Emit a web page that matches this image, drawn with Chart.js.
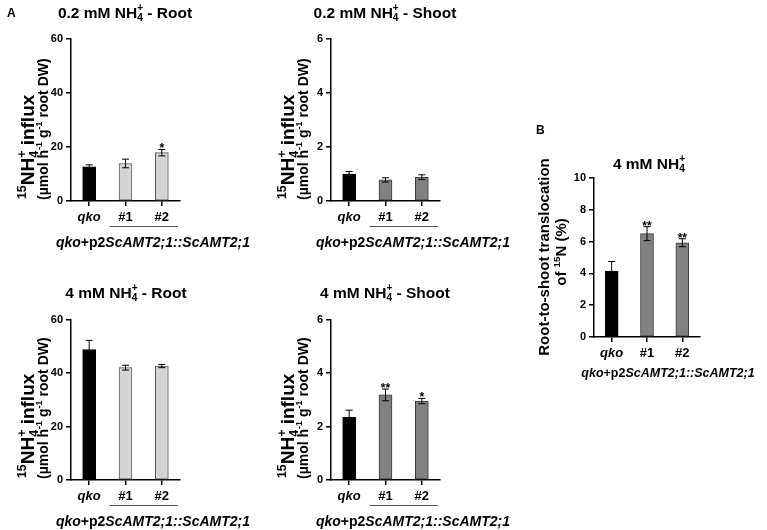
<!DOCTYPE html>
<html>
<head>
<meta charset="utf-8">
<script src="https://cdn.jsdelivr.net/npm/chart.js@4"></script>
<style>
  html, body { margin: 0; padding: 0; background: #fff; }
  #wrap { position: relative; width: 767px; height: 530px; }
  #wrap canvas { position: absolute; left: 0; top: 0; }
</style>
</head>
<body>
<div id="wrap">
  <canvas id="c1" width="767" height="530"></canvas>
  <canvas id="c2" width="767" height="530"></canvas>
  <canvas id="c3" width="767" height="530"></canvas>
  <canvas id="c4" width="767" height="530"></canvas>
  <canvas id="c5" width="767" height="530"></canvas>
</div>
<script>
const FONT = '"Liberation Sans", Arial, sans-serif';

// Data
const lines = ['qko', '#1', '#2'];

const root02 = [12.7, 13.9, 17.9];
const root02Err = [0.7, 1.6, 1.2];
const root02Sig = ['', '', '*'];

const shoot02 = [1.0, 0.78, 0.88];
const shoot02Err = [0.09, 0.08, 0.09];
const shoot02Sig = ['', '', ''];

const root4 = [48.8, 42.0, 42.6];
const root4Err = [3.4, 0.9, 0.6];
const root4Sig = ['', '', ''];

const shoot4 = [2.34, 3.18, 2.95];
const shoot4Err = [0.27, 0.22, 0.1];
const shoot4Sig = ['', '**', '*'];

const transloc = [4.15, 6.5, 5.93];
const translocErr = [0.6, 0.44, 0.25];
const translocSig = ['', '**', '**'];

const BLACK = '#000000', LIGHT = '#d4d4d4', DARK = '#818181';

// Draw text made of pieces (super/subscripts, italics)
function rich(ctx, segs, x, y, size, align, rot) {
  ctx.save();
  ctx.translate(x, y);
  if (rot) ctx.rotate(rot);
  ctx.textBaseline = 'alphabetic';
  ctx.textAlign = 'left';
  ctx.fillStyle = '#000';
  const parts = segs.map(s => {
    const sz = s.s ? size * 0.65 : size;
    const f = `${s.i ? 'italic ' : ''}bold ${sz}px ${FONT}`;
    ctx.font = f;
    return Object.assign({}, s, { f, w: ctx.measureText(s.t).width,
      dy: s.s === 'sup' ? -size * 0.42 : s.s === 'sub' ? size * 0.22 : 0 });
  });
  let cx = 0, last = 0;
  parts.forEach(p => {
    if (p.stack) { p.x = last; cx = Math.max(cx, last + p.w); }
    else { p.x = cx; last = cx; cx += p.w; }
  });
  const start = align === 'center' ? -cx / 2 : align === 'right' ? -cx : 0;
  parts.forEach(p => { ctx.font = p.f; ctx.fillText(p.t, start + p.x, p.dy); });
  ctx.restore();
}

const nh4 = [{ t: 'NH' }, { t: '4', s: 'sub' }, { t: '+', s: 'sup', stack: true }];
const influxL1 = [{ t: '15', s: 'sup' }].concat(nh4, [{ t: ' influx' }]);
const influxL2 = [{ t: '(\u00b5mol h' }, { t: '-1', s: 'sup' }, { t: ' g' }, { t: '-1', s: 'sup' }, { t: ' root DW)' }];
const groupText = [{ t: 'qko', i: true }, { t: '+p2' }, { t: 'ScAMT2;1::ScAMT2;1', i: true }];

function decor(cfg) {
  return {
    id: 'decor',
    afterDatasetsDraw(chart) {
      const ctx = chart.ctx, xs = chart.scales.x, ys = chart.scales.y;
      ctx.save();
      ctx.strokeStyle = '#000';
      ctx.lineWidth = 1;
      cfg.values.forEach((v, i) => {
        const x = xs.getPixelForValue(i);
        const t = ys.getPixelForValue(v + cfg.errs[i]);
        const b = ys.getPixelForValue(v - cfg.errs[i]);
        ctx.beginPath();
        ctx.moveTo(x, t); ctx.lineTo(x, b);
        ctx.moveTo(x - 3.5, t); ctx.lineTo(x + 3.5, t);
        ctx.moveTo(x - 3.5, b); ctx.lineTo(x + 3.5, b);
        ctx.stroke();
        if (cfg.sig[i]) {
          ctx.fillStyle = '#000';
          ctx.font = `bold 12px ${FONT}`;
          ctx.textAlign = 'center';
          ctx.textBaseline = 'alphabetic';
          ctx.fillText(cfg.sig[i], x, t + 3);
        }
      });
      ctx.restore();
    },
    afterDraw(chart) {
      const ctx = chart.ctx, xs = chart.scales.x, a = chart.chartArea;
      rich(ctx, cfg.title, cfg.titleX, cfg.titleY, 15.5, 'center');
      if (cfg.letter) {
        ctx.save();
        ctx.fillStyle = '#000';
        ctx.font = `bold 12px ${FONT}`;
        ctx.fillText(cfg.letter[0], cfg.letter[1], cfg.letter[2]);
        ctx.restore();
      }
      cfg.ytitle.forEach(l => rich(ctx, l.segs, l.x, l.y, l.size, l.align, -Math.PI / 2));
      if (cfg.underline) {
        const x1 = xs.getPixelForValue(1) - 16, x2 = xs.getPixelForValue(2) + 16;
        ctx.save();
        ctx.strokeStyle = '#555';
        ctx.lineWidth = 1;
        ctx.beginPath();
        ctx.moveTo(x1, a.bottom + 25.5); ctx.lineTo(x2, a.bottom + 25.5);
        ctx.stroke();
        ctx.restore();
      }
      rich(ctx, groupText, cfg.groupX, cfg.groupY, cfg.groupSize, 'center');
    }
  };
}

function panel(id, cfg) {
  const a = cfg.area;
  const axisGrid = { drawOnChartArea: false, color: '#000', lineWidth: 1.5, tickLength: 5 };
  new Chart(document.getElementById(id), {
    type: 'bar',
    data: {
      labels: lines,
      datasets: [{
        data: cfg.values,
        backgroundColor: cfg.fill,
        borderColor: cfg.fill.map(c => c === BLACK ? BLACK : c === LIGHT ? '#5a5a5a' : '#3a3a3a'),
        borderWidth: 1, borderSkipped: false, barThickness: 13
      }]
    },
    options: {
      responsive: false, animation: false, events: [],
      layout: { padding: { left: a.l - 40, right: 767 - a.r, top: a.t, bottom: 530 - a.b - 40 } },
      plugins: { legend: { display: false }, tooltip: { enabled: false } },
      scales: {
        x: {
          offset: true,
          grid: Object.assign({ offset: false }, axisGrid),
          border: { color: '#000', width: 1.5 },
          ticks: {
            color: '#000', padding: 4, autoSkip: false, maxRotation: 0,
            font: c => ({ family: FONT, size: 13, weight: 'bold', style: c.index === 0 ? 'italic' : 'normal' })
          },
          afterFit: s => { s.height = 40; }
        },
        y: {
          min: 0, max: cfg.max,
          grid: axisGrid,
          border: { color: '#000', width: 1.5 },
          ticks: { stepSize: cfg.step, color: '#000', padding: 3, font: { family: FONT, size: 11, weight: 'bold' } },
          afterFit: s => { s.width = 40; }
        }
      }
    },
    plugins: [decor(cfg)]
  });
}

function influxTitle(x0, bottom) {
  return [
    { segs: influxL1, x: x0 + 34, y: bottom - 2, size: 19, align: 'left' },
    { segs: influxL2, x: x0 + 47.5, y: bottom - 1, size: 14, align: 'left' }
  ];
}

panel('c1', {
  area: { l: 71, r: 180, t: 39, b: 201 },
  values: root02, errs: root02Err, sig: root02Sig, max: 60, step: 20,
  fill: [BLACK, LIGHT, LIGHT],
  title: [{ t: '0.2 mM ' }].concat(nh4, [{ t: ' - Root' }]), titleX: 125, titleY: 17.5,
  letter: ['A', 7, 16.5],
  ytitle: influxTitle(0, 201),
  underline: true, groupX: 153, groupY: 247, groupSize: 14
});

panel('c2', {
  area: { l: 331, r: 440, t: 39, b: 201 },
  values: shoot02, errs: shoot02Err, sig: shoot02Sig, max: 6, step: 2,
  fill: [BLACK, DARK, DARK],
  title: [{ t: '0.2 mM ' }].concat(nh4, [{ t: ' - Shoot' }]), titleX: 385, titleY: 17.5,
  ytitle: influxTitle(260, 201),
  underline: true, groupX: 413, groupY: 247, groupSize: 14
});

panel('c3', {
  area: { l: 71, r: 180, t: 319.5, b: 480 },
  values: root4, errs: root4Err, sig: root4Sig, max: 60, step: 20,
  fill: [BLACK, LIGHT, LIGHT],
  title: [{ t: '4 mM ' }].concat(nh4, [{ t: ' - Root' }]), titleX: 126, titleY: 297.5,
  ytitle: influxTitle(0, 480),
  underline: true, groupX: 153, groupY: 526, groupSize: 14
});

panel('c4', {
  area: { l: 331, r: 440, t: 319.5, b: 480 },
  values: shoot4, errs: shoot4Err, sig: shoot4Sig, max: 6, step: 2,
  fill: [BLACK, DARK, DARK],
  title: [{ t: '4 mM ' }].concat(nh4, [{ t: ' - Shoot' }]), titleX: 385, titleY: 297.5,
  ytitle: influxTitle(260, 480),
  underline: true, groupX: 413, groupY: 526, groupSize: 14
});

panel('c5', {
  area: { l: 594, r: 700, t: 178, b: 337 },
  values: transloc, errs: translocErr, sig: translocSig, max: 10, step: 2,
  fill: [BLACK, DARK, DARK],
  title: [{ t: '4 mM ' }].concat(nh4), titleX: 649, titleY: 168.5,
  letter: ['B', 536, 134],
  ytitle: [
    { segs: [{ t: 'Root-to-shoot translocation' }], x: 549, y: 257, size: 15, align: 'center' },
    { segs: [{ t: 'of ' }, { t: '15', s: 'sup' }, { t: 'N (%)' }], x: 566, y: 252, size: 15, align: 'center' }
  ],
  underline: false, groupX: 668, groupY: 377, groupSize: 12.5
});
</script>
</body>
</html>
